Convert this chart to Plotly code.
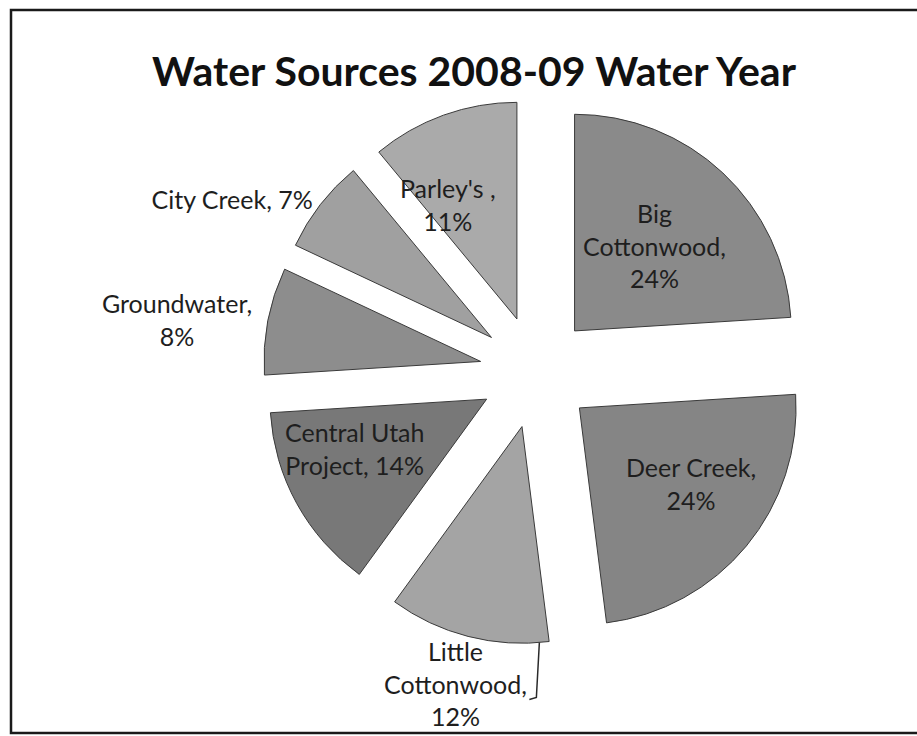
import math
import plotly.graph_objects as go

# Data
sources = ["Big Cottonwood", "Deer Creek", "Little Cottonwood", "Central Utah Project",
           "Groundwater", "City Creek", "Parley's"]
shares = [24, 24, 12, 14, 8, 7, 11]
label_text = ["Big<br>Cottonwood,<br>24%", "Deer Creek,<br>24%", "Little<br>Cottonwood,<br>12%",
              "Central Utah<br>Project, 14%", "Groundwater,<br>8%", "City Creek, 7%",
              "Parley's ,<br>11%"]
colors = ["#8a8a8a", "#858585", "#a4a4a4", "#787878", "#8d8d8d", "#a0a0a0", "#aaaaaa"]

# label placement style: "pie" = drawn by the pie trace (outside), "inside" = annotation at
# (radial fraction, angular offset in degrees) inside the pulled slice,
# "below" = beneath the slice's outer edge with a leader line
label_mode = ["inside", "inside", "below", "inside", "pie", "pie", "inside"]
label_frac = [0.54, 0.62, 1.0, 0.65, 0, 0, 0.615]
label_dtheta = [0.0, -5.6, -19.0, 8.4, 0, 0, -11.3]

W, H = 917, 736
cx, cy, R = 536, 372, 273
PULL = 0.26
FONT = "Lato, sans-serif"
FSIZE = 25
TCOLOR = "#1e1e1e"

trace_text = [(t if m == "pie" else "") for t, m in zip(label_text, label_mode)]

fig = go.Figure(go.Pie(
    labels=sources,
    values=shares,
    text=trace_text,
    textinfo="text",
    textposition="outside",
    textfont=dict(family=FONT, size=FSIZE, color=TCOLOR),
    marker=dict(colors=colors, line=dict(color="#3a3a3a", width=1)),
    pull=[PULL] * len(shares),
    sort=False,
    direction="clockwise",
    rotation=0,
    showlegend=False,
    automargin=False,
    hoverinfo="label+percent",
    domain=dict(x=[(cx - R) / W, (cx + R) / W], y=[1 - (cy + R) / H, 1 - (cy - R) / H]),
))

# geometry of the pulled slices for label annotations
total = sum(shares)
r = R / (1 + PULL)
annotations = []
shapes = [dict(type="rect", xref="paper", yref="paper",
               x0=11 / W, x1=1.02, y0=1 - 733 / H, y1=1 - 10 / H,
               line=dict(color="#1a1a1a", width=2.5), fillcolor="rgba(0,0,0,0)")]


def to_paper(px, py):
    return px / W, 1 - py / H


cum = 0
for i, v in enumerate(shares):
    mid = 2 * math.pi * (cum + v / 2) / total
    cum += v
    mode = label_mode[i]
    if mode == "pie":
        continue
    ax_ = cx + PULL * r * math.sin(mid)
    ay_ = cy - PULL * r * math.cos(mid)
    if mode == "inside":
        th = mid + math.radians(label_dtheta[i])
        d = label_frac[i] * r
        x, y = to_paper(ax_ + d * math.sin(th), ay_ - d * math.cos(th))
        annotations.append(dict(text=label_text[i], xref="paper", yref="paper",
                                x=x, y=y, xanchor="center", yanchor="middle",
                                showarrow=False,
                                font=dict(family=FONT, size=FSIZE, color=TCOLOR)))
    else:  # below the outer edge, with a leader line from the arc
        x, y = to_paper(cx + R * math.sin(mid), cy - R * math.cos(mid))
        annotations.append(dict(text=label_text[i], xref="paper", yref="paper",
                                x=x, y=y, xanchor="center", yanchor="top",
                                xshift=-13, yshift=2, showarrow=False,
                                font=dict(family=FONT, size=FSIZE, color=TCOLOR)))
        th = mid + math.radians(label_dtheta[i])
        sx, sy = ax_ + r * math.sin(th), ay_ - r * math.cos(th)
        p0 = to_paper(sx, sy)
        p1 = to_paper(sx - 3, sy + 55)
        p2 = to_paper(sx - 10, sy + 57)
        shapes.append(dict(type="path", xref="paper", yref="paper",
                           path=f"M {p0[0]} {p0[1]} L {p1[0]} {p1[1]} L {p2[0]} {p2[1]}",
                           line=dict(color="#2a2a2a", width=1.5)))

fig.update_layout(
    width=W, height=H,
    margin=dict(l=0, r=0, t=0, b=0, autoexpand=False),
    paper_bgcolor="white",
    title=dict(text="<b>Water Sources 2008-09 Water Year</b>",
               x=474 / W, xanchor="center", y=1 - 72 / H, yanchor="middle",
               font=dict(family=FONT, size=41, color="#111111")),
    shapes=shapes,
    annotations=annotations,
)

fig.write_html("out.html")
